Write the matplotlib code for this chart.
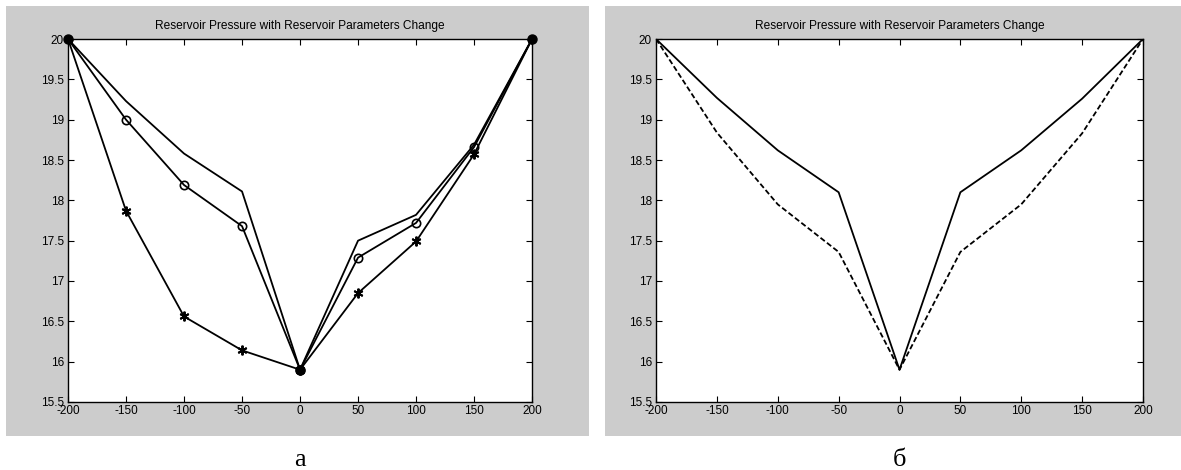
import matplotlib.pyplot as plt
from matplotlib.patches import Rectangle

# distance from well, m
x = [-200, -150, -100, -50, 0, 50, 100, 150, 200]

# panel a: three parameter cases
p_base = [20.0, 19.23, 18.58, 18.11, 15.9, 17.50, 17.82, 18.69, 20.0]
p_circle = [20.0, 19.0, 18.19, 17.68, 15.9, 17.29, 17.72, 18.66, 20.0]
p_star = [20.0, 17.87, 16.56, 16.14, 15.9, 16.85, 17.49, 18.57, 20.0]
bound_x = [-200, 0, 200]
bound_y = [20.0, 15.9, 20.0]

# panel b: solid vs dashed
p_solid = [20.0, 19.27, 18.62, 18.10, 15.9, 18.10, 18.62, 19.26, 20.0]
p_dashed = [20.0, 18.84, 17.95, 17.36, 15.9, 17.36, 17.95, 18.83, 20.0]

xticks = [-200, -150, -100, -50, 0, 50, 100, 150, 200]
yticks = [15.5, 16, 16.5, 17, 17.5, 18, 18.5, 19, 19.5, 20]
title = "Reservoir Pressure with Reservoir Parameters Change"
panel_labels = ["а", "б"]

plt.rcParams["font.family"] = ["Liberation Sans", "DejaVu Sans"]

fig = plt.figure(figsize=(11.81, 4.70), dpi=100)

# grey matlab-style figure backgrounds
grey = "#cccccc"
fig.patches.append(Rectangle((0.0051, 0.0723), 0.4937, 0.915, transform=fig.transFigure,
                             facecolor=grey, edgecolor="none", zorder=-1))
fig.patches.append(Rectangle((0.5123, 0.0723), 0.4877, 0.915, transform=fig.transFigure,
                             facecolor=grey, edgecolor="none", zorder=-1))

ax_a = fig.add_axes([0.0576, 0.1447, 0.3929, 0.7723])
ax_b = fig.add_axes([0.5555, 0.1447, 0.4123, 0.7723])

lw = 1.3
ax_a.plot(x, p_base, color="black", lw=lw)
ax_a.plot(x, p_circle, color="black", lw=lw, marker="o", ms=6,
          mfc="none", mew=1.2)
# matlab-like asterisk marker
ax_a.plot(x, p_star, color="black", lw=lw, marker=(6, 2, 0), ms=7, mew=1.4)
ax_a.plot(bound_x, bound_y, ls="none", marker="o", ms=6.5, color="black",
          clip_on=False, zorder=5)

ax_b.plot(x, p_solid, color="black", lw=lw)
ax_b.plot(x, p_dashed, color="black", lw=lw, ls=(0, (3, 1.5)))

for ax, lab in zip([ax_a, ax_b], panel_labels):
    ax.set_xlim(-200, 200)
    ax.set_ylim(15.5, 20)
    ax.set_xticks(xticks)
    ax.set_xticklabels([str(v) for v in xticks])
    ax.set_yticks(yticks)
    ax.set_yticklabels([f"{v:g}" for v in yticks])
    ax.tick_params(direction="in", top=True, right=True, length=4, width=0.8,
                   labelsize=8.5, pad=3)
    ax.tick_params(axis="x", pad=2)
    for s in ax.spines.values():
        s.set_linewidth(1.0)
    ax.set_title(title, fontsize=8.6, pad=7)
    pos = ax.get_position()
    fig.text((pos.x0 + pos.x1) / 2, 0.008, lab, ha="center", va="baseline",
             fontsize=19, family=["Liberation Serif", "DejaVu Serif"])

fig.savefig("out.png", dpi=100)
